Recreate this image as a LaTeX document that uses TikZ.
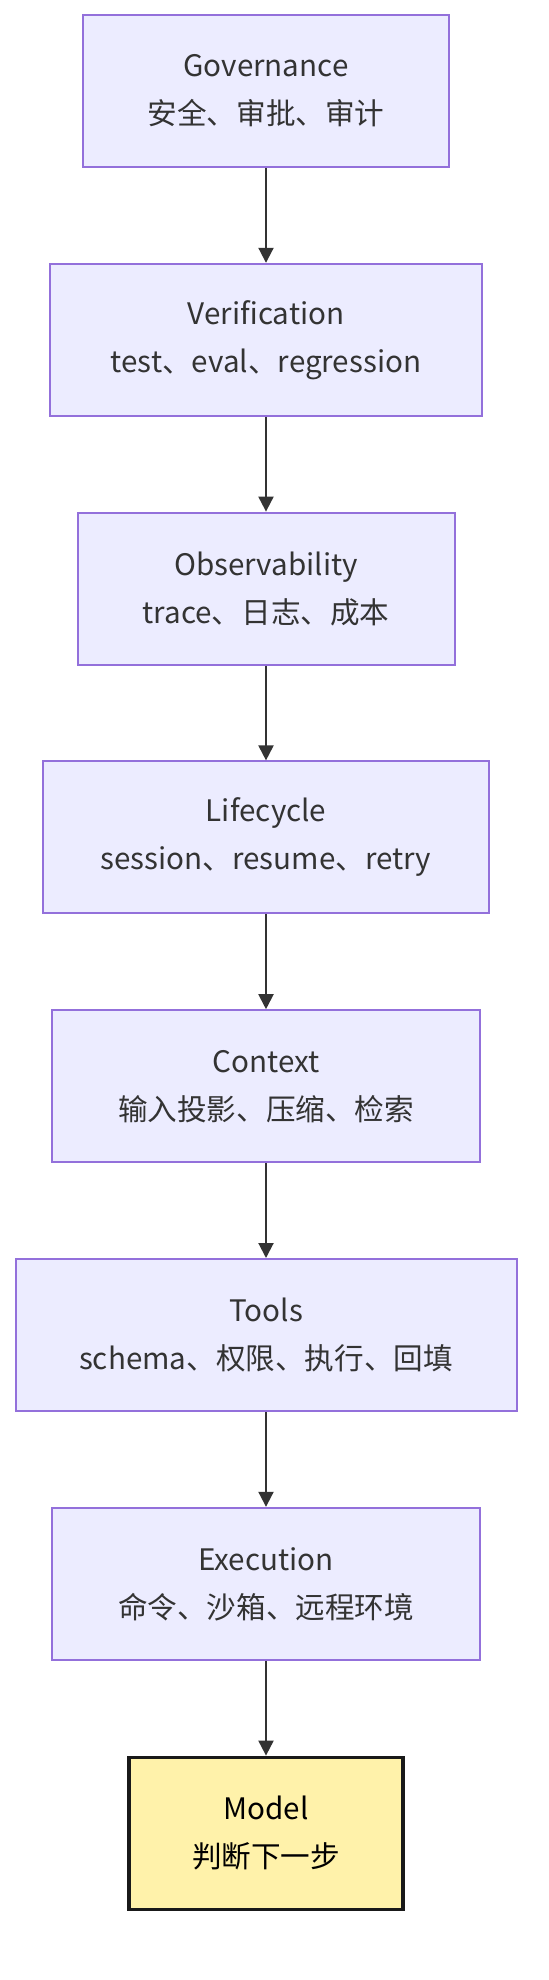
\documentclass[tikz,border=0pt]{standalone}
\usepackage{fontspec}
\setmainfont{Noto Sans CJK SC}
\usepackage{xcolor}
\usetikzlibrary{positioning,arrows.meta}
\definecolor{boxfill}{HTML}{ECECFF}
\definecolor{boxline}{HTML}{9370DB}
\definecolor{modelfill}{HTML}{FFF2AA}
\definecolor{arrline}{HTML}{333333}

\begin{document}
\begin{tikzpicture}[node distance=47.4pt,box/.style={draw=boxline,fill=boxfill,line width=1pt,minimum height=76pt,align=center,inner sep=0pt,text=arrline,font=\fontsize{14.8pt}{24pt}\selectfont},model/.style={box,draw=black!90,fill=modelfill,line width=1.7pt,text=black},arr/.style={-{Triangle[length=7.5pt,width=7.5pt]},line width=1pt,arrline}]
\useasboundingbox[fill=white] (0,0) rectangle (274pt,-990pt);
\node (gov) [box,minimum width=183pt] at (133pt,-45.5pt) {Governance\\安全、审批、审计};
\node (ver) [box,minimum width=216pt,below=of gov] {Verification\\test、eval、regression};
\node (obs) [box,minimum width=188.5pt,below=of ver] {Observability\\trace、日志、成本};
\node (life) [box,minimum width=223pt,below=of obs] {Lifecycle\\session、resume、retry};
\node (ctx) [box,minimum width=214pt,below=of life] {Context\\输入投影、压缩、检索};
\node (tools) [box,minimum width=250.5pt,below=of ctx] {Tools\\schema、权限、执行、回填};
\node (exec) [box,minimum width=214pt,below=of tools] {Execution\\命令、沙箱、远程环境};
\node (model) [model,minimum width=137pt,below=of exec] {Model\\判断下一步};
\draw[arr] (gov)--(ver); \draw[arr] (ver)--(obs); \draw[arr] (obs)--(life); \draw[arr] (life)--(ctx);
\draw[arr] (ctx)--(tools); \draw[arr] (tools)--(exec); \draw[arr] (exec)--(model);
\end{tikzpicture}
\end{document}
